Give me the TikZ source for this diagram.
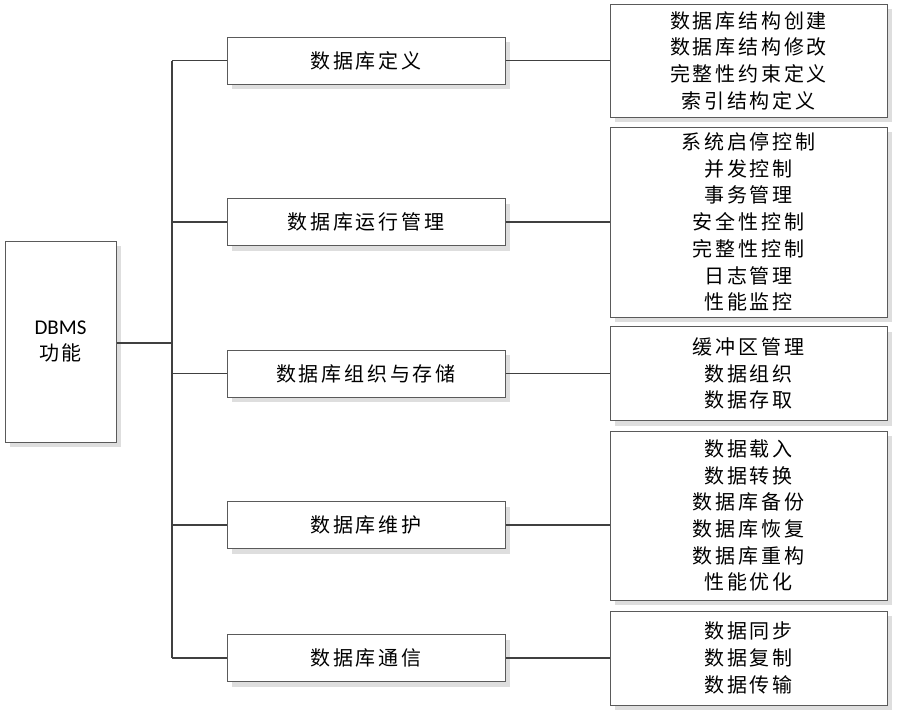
\documentclass[tikz,border=0pt]{standalone}
\usepackage{fontspec}
\setmainfont{Noto Sans CJK SC}[LetterSpace=14]
\newfontfamily\latinfont{Carlito}
\usetikzlibrary{positioning, shadows}
\definecolor{cline}{RGB}{64,64,64}
\definecolor{cedge}{RGB}{90,90,90}
\definecolor{cshade}{RGB}{222,222,222}

\begin{document}
\begin{tikzpicture}[x=1pt, y=-1pt, font=\fontsize{20}{26.7}\selectfont,
    card/.style={draw=cedge, line width=1pt, fill=white, align=center, inner sep=0pt,
      drop shadow={shadow xshift=5pt, shadow yshift=-5pt, fill=cshade, opacity=1}},
    mid/.style={card, minimum width=278pt, minimum height=47pt},
    leaf/.style={card, minimum width=277pt},
    link/.style={draw=cline, line width=1.5pt}]

  \useasboundingbox (0,0) rectangle (899,715);

  % root
  \node[card, minimum width=111pt, minimum height=201pt] (root) at (60.5,341.5)
    {{\latinfont\fontsize{21}{26.7}\selectfont DBMS}\\功能};

  % second level
  \node[mid] (def) at (366,60.5)  {数据库定义};
  \node[mid] (run) at (366,222)   {数据库运行管理};
  \node[mid] (org) at (366,373.5) {数据库组织与存储};
  \node[mid] (mnt) at (366,525)   {数据库维护};
  \node[mid] (com) at (366,658)   {数据库通信};

  % details
  \node[leaf, minimum height=113pt] (defd) at (748.5,60.5)
    {数据库结构创建\\数据库结构修改\\完整性约束定义\\索引结构定义};
  \node[leaf, minimum height=190pt] (rund) at (748.5,222)
    {系统启停控制\\并发控制\\事务管理\\安全性控制\\完整性控制\\日志管理\\性能监控};
  \node[leaf, minimum height=94pt] (orgd) at (748.5,373.5)
    {缓冲区管理\\数据组织\\数据存取};
  \node[leaf, minimum height=169pt] (mntd) at (748.5,515.5)
    {数据载入\\数据转换\\数据库备份\\数据库恢复\\数据库重构\\性能优化};
  \node[leaf, minimum height=94pt] (comd) at (748.5,658)
    {数据同步\\数据复制\\数据传输};

  % trunk
  \coordinate (hub) at (172,0);
  \draw[link] (root.east |- 0,343) -- (hub |- 0,343);
  \draw[link] (hub |- def.west) -- (hub |- com.west);
  \foreach \m in {def,run,org,mnt,com}
    \draw[link] (hub |- \m.west) -- (\m.west);
  \foreach \m in {def,run,org,mnt,com}
    \draw[link] (\m.east) -- (\m.east -| \m d.west);
\end{tikzpicture}
\end{document}
